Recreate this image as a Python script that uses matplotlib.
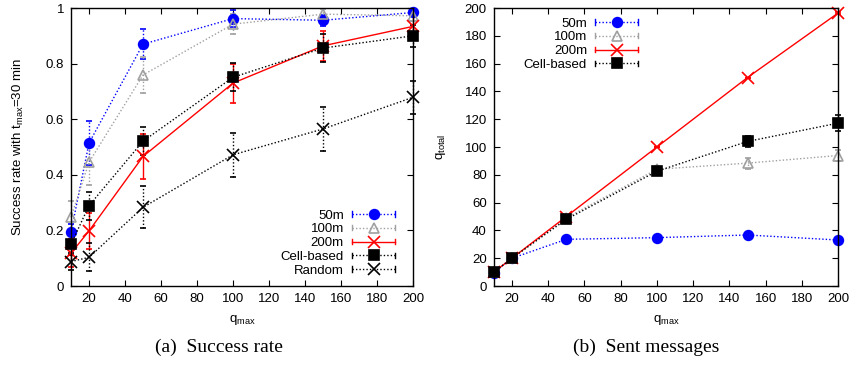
import matplotlib
matplotlib.use("Agg")
import matplotlib.pyplot as plt
from matplotlib.lines import Line2D
from matplotlib.legend_handler import HandlerLine2D

plt.rcParams["font.family"] = ["Liberation Sans", "DejaVu Sans"]

# ---- data -------------------------------------------------------------
q_max = [10, 20, 50, 100, 150, 200]

# (a) success rate
succ_50m = [0.193, 0.514, 0.870, 0.962, 0.956, 0.984]
succ_100m = [0.247, 0.445, 0.759, 0.942, 0.978, 0.972]
succ_200m = [0.118, 0.198, 0.466, 0.730, 0.864, 0.934]
succ_cell = [0.150, 0.289, 0.521, 0.751, 0.856, 0.900]
succ_rand = [0.088, 0.103, 0.283, 0.472, 0.565, 0.679]
err_50m = [0.03, 0.08, 0.055, 0.03, 0.02, 0.01]
err_100m = [0.06, 0.08, 0.065, 0.035, 0.02, 0.02]
err_200m = [0.05, 0.065, 0.08, 0.07, 0.055, 0.04]
err_cell = [0.04, 0.05, 0.05, 0.05, 0.05, 0.04]
err_rand = [0.03, 0.05, 0.075, 0.08, 0.08, 0.06]

# (b) sent messages
msg_50m = [9.6, 20.0, 33.6, 34.8, 36.7, 33.1]
msg_100m = [10.0, 20.0, 49.0, 84.0, 88.4, 93.9]
msg_200m = [10.0, 20.0, 50.0, 100.0, 150.0, 196.4]
msg_cell = [10.0, 20.0, 48.0, 82.6, 104.0, 117.2]
merr_50m = [0.3, 0.5, 1.0, 1.0, 2.0, 1.0]
merr_100m = [0.3, 0.5, 1.5, 2.0, 4.0, 4.0]
merr_200m = [0.0, 0.0, 0.0, 0.0, 0.0, 0.5]
merr_cell = [0.3, 0.5, 1.0, 1.5, 4.0, 6.0]

DOT = (0, (1, 1.5))
STYLES = {
    "50m": dict(color="#0000ff", ls=DOT, marker="o", mfc="#0000ff", ms=7),
    "100m": dict(color="#a0a0a0", ls=DOT, marker="^", mfc="none", ms=7),
    "200m": dict(color="#ff0000", ls="-", marker="x", mfc="#ff0000", ms=8),
    "Cell-based": dict(color="#000000", ls=DOT, marker="s", mfc="#000000", ms=7),
    "Random": dict(color="#000000", ls=DOT, marker="x", mfc="#000000", ms=8),
}


class CapHandler(HandlerLine2D):
    """gnuplot-like key sample: line with caps at both ends, marker in middle"""
    def create_artists(self, legend, orig_handle, xdescent, ydescent,
                       width, height, fontsize, trans):
        arts = super().create_artists(legend, orig_handle, xdescent, ydescent,
                                      width, height, fontsize, trans)
        y = height / 2 - ydescent
        c = height * 0.3
        for x in (-xdescent, -xdescent + width):
            cap = Line2D([x, x], [y - c, y + c], color=orig_handle.get_color(),
                         lw=1, transform=trans)
            arts.append(cap)
        return arts


def draw(ax, name, y, e):
    st = STYLES[name]
    cont = ax.errorbar(q_max, y, yerr=e, color=st["color"], ls=st["ls"], lw=1,
                       marker=st["marker"], mfc=st["mfc"], mec=st["color"],
                       ms=st["ms"], mew=1.2, capsize=2.5, elinewidth=1)
    cont[0].set_clip_on(False)
    for a in list(cont[1]) + list(cont[2]):
        a.set_clip_on(False)
    if st["ls"] != "-":
        for bc in cont[2]:
            bc.set_linestyle(DOT)
    return Line2D([], [], color=st["color"], ls=st["ls"], lw=1,
                  marker=st["marker"], mfc=st["mfc"], mec=st["color"],
                  ms=st["ms"], mew=1.2)


def style_axes(ax):
    ax.tick_params(direction="in", top=True, right=True, length=4,
                   labelsize=9.5, pad=5)
    for s in ax.spines.values():
        s.set_linewidth(1)
    ax.set_xlim(10, 200)
    ax.set_xticks(range(20, 201, 20))
    ax.set_xlabel(r"q$_\mathregular{max}$", fontsize=9.5, labelpad=6)


fig = plt.figure(figsize=(8.5, 3.65), dpi=100)
ax1 = fig.add_axes([0.0835, 0.2164, 0.4025, 0.7616])
ax2 = fig.add_axes([0.581, 0.2164, 0.405, 0.7616])

# (a)
handles = []
for name, y, e in [("50m", succ_50m, err_50m), ("100m", succ_100m, err_100m),
                   ("200m", succ_200m, err_200m), ("Cell-based", succ_cell, err_cell),
                   ("Random", succ_rand, err_rand)]:
    handles.append((draw(ax1, name, y, e), name))
style_axes(ax1)
ax1.set_ylim(0, 1)
ax1.set_yticks([0, 0.2, 0.4, 0.6, 0.8, 1])
ax1.set_yticklabels(["0", "0.2", "0.4", "0.6", "0.8", "1"])
ax1.set_ylabel(r"Success rate with t$_\mathregular{max}$=30 min", fontsize=9.5,
               labelpad=14)
ax1.legend([h for h, _ in handles], [n for _, n in handles], loc="lower right",
           bbox_to_anchor=(0.975, 0.0), markerfirst=False, frameon=False,
           fontsize=9.5, handlelength=3.3, handletextpad=0.6, labelspacing=0.12,
           borderpad=0.2, numpoints=1, handler_map={Line2D: CapHandler()})

# (b)
handles = []
for name, y, e in [("50m", msg_50m, merr_50m), ("100m", msg_100m, merr_100m),
                   ("200m", msg_200m, merr_200m), ("Cell-based", msg_cell, merr_cell)]:
    handles.append((draw(ax2, name, y, e), name))
style_axes(ax2)
ax2.set_ylim(0, 200)
ax2.set_yticks(range(0, 201, 20))
ax2.set_ylabel(r"q$_\mathregular{total}$", fontsize=9.5, labelpad=12)
ax2.legend([h for h, _ in handles], [n for _, n in handles], loc="upper left",
           bbox_to_anchor=(0.06, 1.0), markerfirst=False, frameon=False,
           fontsize=9.5, handlelength=3.3, handletextpad=0.6, labelspacing=0.12,
           borderpad=0.2, numpoints=1, handler_map={Line2D: CapHandler()})

fig.text(0.257, 0.036, "(a)  Success rate", family="Liberation Serif",
         fontsize=14, ha="center")
fig.text(0.760, 0.036, "(b)  Sent messages", family="Liberation Serif",
         fontsize=14, ha="center")

fig.savefig("out.png", dpi=100)
